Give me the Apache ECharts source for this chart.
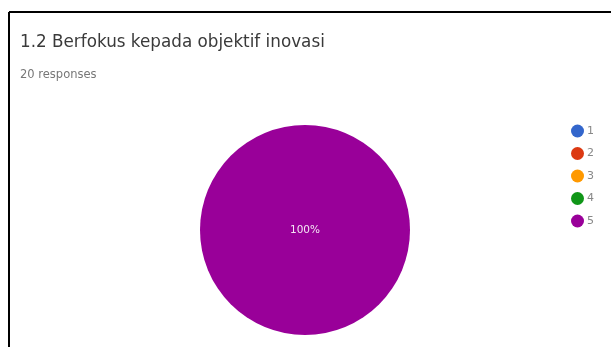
<!DOCTYPE html>
<html>
<head>
<meta charset="utf-8">
<script src="https://cdn.jsdelivr.net/npm/echarts@6/dist/echarts.min.js"></script>
<style>
html,body{margin:0;padding:0;background:#fff;}
#chart{width:611px;height:347px;}
</style>
</head>
<body>
<div id="chart"></div>
<script>
const titleText = '1.2 Berfokus kepada objektif inovasi';
const subtitleText = '20 responses';
const categories = ['1', '2', '3', '4', '5'];
const values = [0, 0, 0, 0, 20];
const colors = ['#3366cc', '#dc3912', '#ff9900', '#109618', '#990099'];

const chart = echarts.init(document.getElementById('chart'), null, {renderer: 'canvas'});
chart.setOption({
  animation: false,
  backgroundColor: '#ffffff',
  color: colors,
  title: {
    text: titleText,
    subtext: subtitleText,
    left: 15,
    top: 29,
    itemGap: 18,
    textStyle: {fontFamily: 'DejaVu Sans', fontSize: 16.8, fontWeight: 'normal', color: '#3a3a3a'},
    subtextStyle: {fontFamily: 'DejaVu Sans', fontSize: 11.5, color: '#777777'}
  },
  legend: {
    orient: 'vertical',
    left: 566,
    top: 119.5,
    icon: 'circle',
    itemWidth: 13,
    itemHeight: 13,
    itemGap: 9.5,
    textStyle: {fontFamily: 'DejaVu Sans', fontSize: 11, color: '#888888', padding: [0, 0, 0, -2]},
    data: categories
  },
  graphic: [
    {type: 'line', shape: {x1: 9, y1: 12, x2: 611, y2: 12}, style: {stroke: '#000', lineWidth: 2}},
    {type: 'line', shape: {x1: 9, y1: 12, x2: 9, y2: 347}, style: {stroke: '#000', lineWidth: 2}}
  ],
  series: [{
    type: 'pie',
    center: [305, 230],
    radius: 105,
    startAngle: 90,
    data: categories.map((c, i) => ({name: c, value: values[i]})),
    label: {
      position: 'center',
      color: '#f4e6f4',
      fontFamily: 'DejaVu Sans',
      fontSize: 10.5,
      formatter: p => p.percent > 0 ? Math.round(p.percent) + '%' : ''
    },
    labelLine: {show: false},
    itemStyle: {borderWidth: 0}
  }]
});
</script>
</body>
</html>
